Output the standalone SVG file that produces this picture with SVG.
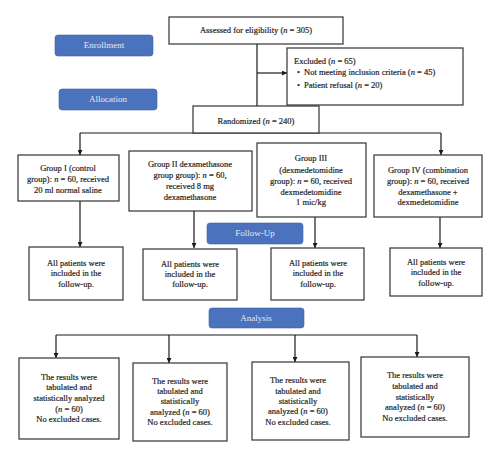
<svg xmlns="http://www.w3.org/2000/svg" width="500" height="459" viewBox="0 0 500 459">
<defs>
<marker id="ah" viewBox="0 0 10 10" refX="10" refY="5" markerWidth="5" markerHeight="5" orient="auto" markerUnits="userSpaceOnUse">
<path d="M0,0 L10,5 L0,10 z" fill="#1a1a1a"/>
</marker>
<style>
.box{fill:#fff;stroke:#333;stroke-width:1.2}
.btn{fill:#4a72bd;stroke:#3d63a8;stroke-width:0.6}
.t{font-family:"Liberation Serif","Times New Roman",serif;font-size:8.5px;fill:#1f1f1f;stroke:#1f1f1f;stroke-width:0.2;text-anchor:middle}
.tl{font-family:"Liberation Serif","Times New Roman",serif;font-size:8.5px;fill:#1f1f1f;stroke:#1f1f1f;stroke-width:0.2}
.bt{font-family:"Liberation Serif","Times New Roman",serif;font-size:9px;fill:#e4e9f4;text-anchor:middle}
.ln{fill:none;stroke:#1a1a1a;stroke-width:1.2}
.a{fill:none;stroke:#1a1a1a;stroke-width:1.2;marker-end:url(#ah)}
</style>
</defs>
<rect width="500" height="459" fill="#fff"/>

<g id="connectors">
<line class="ln" x1="257" y1="44" x2="257" y2="106"/>
<line class="a" x1="257" y1="73" x2="287" y2="73"/>
<line class="ln" x1="80" y1="133" x2="441" y2="133"/>
<line class="a" x1="80" y1="133" x2="80" y2="155"/>
<line class="a" x1="441" y1="133" x2="441" y2="155"/>
<line class="a" x1="80" y1="201" x2="80" y2="247"/>
<line class="a" x1="194" y1="211" x2="194" y2="248"/>
<line class="a" x1="315" y1="217" x2="315" y2="248"/>
<line class="a" x1="440" y1="217" x2="440" y2="248"/>
<line class="ln" x1="56" y1="335" x2="417" y2="335"/>
<line class="a" x1="56" y1="335" x2="56" y2="358"/>
<line class="a" x1="169" y1="335" x2="169" y2="363"/>
<line class="a" x1="295" y1="335" x2="295" y2="362"/>
<line class="a" x1="417" y1="335" x2="417" y2="357"/>
</g>

<g id="enrollment"><rect class="btn" x="55" y="35" width="98" height="21" rx="3"/><text class="bt" x="104" y="48">Enrollment</text></g>
<g id="allocation"><rect class="btn" x="59" y="89" width="98" height="21" rx="3"/><text class="bt" x="108" y="102">Allocation</text></g>
<g id="followup"><rect class="btn" x="207" y="223" width="96" height="21" rx="3"/><text class="bt" x="255" y="236">Follow-Up</text></g>
<g id="analysis"><rect class="btn" x="209" y="308" width="95" height="20" rx="3"/><text class="bt" x="256" y="321">Analysis</text></g>

<g id="assessed"><rect class="box" x="169" y="17" width="174" height="27"/><text class="t" x="256" y="33">Assessed for eligibility (<tspan font-style="italic">n</tspan> = 305)</text></g>

<g id="excluded"><rect class="box" x="287" y="48" width="176" height="57"/>
<text class="tl" x="294" y="64">Excluded (<tspan font-style="italic">n</tspan> = 65)</text>
<text class="tl" x="297" y="75">•</text><text class="tl" x="304" y="75">Not meeting inclusion criteria (<tspan font-style="italic">n</tspan> = 45)</text>
<text class="tl" x="297" y="88">•</text><text class="tl" x="304" y="88">Patient refusal (<tspan font-style="italic">n</tspan> = 20)</text>
</g>

<g id="randomized"><rect class="box" x="193" y="106" width="126" height="27"/><text class="t" x="256" y="124">Randomized (<tspan font-style="italic">n</tspan> = 240)</text></g>

<g id="group1"><rect class="box" x="18" y="155" width="101" height="46"/>
<text class="t" x="68"><tspan x="68" y="171">Group I (control</tspan><tspan x="68" y="182">group): <tspan font-style="italic">n</tspan> = 60, received</tspan><tspan x="68" y="193">20 ml normal saline</tspan></text></g>

<g id="group2"><rect class="box" x="129" y="151" width="123" height="60"/>
<text class="t"><tspan x="190" y="167">Group II dexamethasone</tspan><tspan x="190" y="178">group group): <tspan font-style="italic">n</tspan> = 60,</tspan><tspan x="190" y="189">received 8 mg</tspan><tspan x="190" y="200">dexamethasone</tspan></text></g>

<g id="group3"><rect class="box" x="257" y="143" width="109" height="74"/>
<text class="t"><tspan x="311" y="161">Group III</tspan><tspan x="311" y="173">(dexmedetomidine</tspan><tspan x="311" y="184">group): <tspan font-style="italic">n</tspan> = 60, received</tspan><tspan x="311" y="195">dexmedetomidine</tspan><tspan x="311" y="205">1 mic/kg</tspan></text></g>

<g id="group4"><rect class="box" x="374" y="155" width="108" height="62"/>
<text class="t"><tspan x="428" y="173">Group IV (combination</tspan><tspan x="428" y="184">group): <tspan font-style="italic">n</tspan> = 60, received</tspan><tspan x="428" y="195">dexamethasone +</tspan><tspan x="428" y="205">dexmedetomidine</tspan></text></g>

<g id="follow1"><rect class="box" x="29" y="247" width="94" height="53"/>
<text class="t"><tspan x="76" y="266">All patients were</tspan><tspan x="76" y="276">included in the</tspan><tspan x="76" y="287">follow-up.</tspan></text></g>
<g id="follow2"><rect class="box" x="143" y="249" width="94" height="51"/>
<text class="t"><tspan x="190" y="267">All patients were</tspan><tspan x="190" y="277">included in the</tspan><tspan x="190" y="287">follow-up.</tspan></text></g>
<g id="follow3"><rect class="box" x="271" y="248" width="93" height="52"/>
<text class="t"><tspan x="318" y="266">All patients were</tspan><tspan x="318" y="276">included in the</tspan><tspan x="318" y="287">follow-up.</tspan></text></g>
<g id="follow4"><rect class="box" x="390" y="248" width="92" height="48"/>
<text class="t"><tspan x="436" y="265">All patients were</tspan><tspan x="436" y="275">included in the</tspan><tspan x="436" y="286">follow-up.</tspan></text></g>

<g id="result1"><rect class="box" x="19" y="358" width="100" height="81"/>
<text class="t"><tspan x="69" y="380">The results were</tspan><tspan x="69" y="390">tabulated and</tspan><tspan x="69" y="401">statistically analyzed</tspan><tspan x="69" y="412">(<tspan font-style="italic">n</tspan> = 60)</tspan><tspan x="69" y="422">No excluded cases.</tspan></text></g>
<g id="result2"><rect class="box" x="133" y="363" width="94" height="78"/>
<text class="t"><tspan x="180" y="384">The results were</tspan><tspan x="180" y="394">tabulated and</tspan><tspan x="180" y="404">statistically</tspan><tspan x="180" y="415">analyzed (<tspan font-style="italic">n</tspan> = 60)</tspan><tspan x="180" y="425">No excluded cases.</tspan></text></g>
<g id="result3"><rect class="box" x="252" y="362" width="97" height="78"/>
<text class="t"><tspan x="298" y="383">The results were</tspan><tspan x="298" y="394">tabulated and</tspan><tspan x="298" y="404">statistically</tspan><tspan x="298" y="414">analyzed (<tspan font-style="italic">n</tspan> = 60)</tspan><tspan x="298" y="425">No excluded cases.</tspan></text></g>
<g id="result4"><rect class="box" x="361" y="357" width="108" height="80"/>
<text class="t"><tspan x="415" y="378">The results were</tspan><tspan x="415" y="389">tabulated and</tspan><tspan x="415" y="400">statistically</tspan><tspan x="415" y="410">analyzed (<tspan font-style="italic">n</tspan> = 60)</tspan><tspan x="415" y="421">No excluded cases.</tspan></text></g>
</svg>
